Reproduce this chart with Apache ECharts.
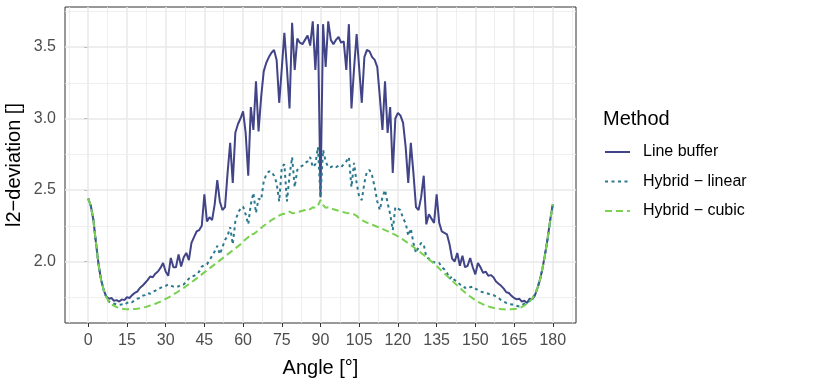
<!DOCTYPE html>
<html>
<head>
<meta charset="utf-8">
<script src="https://cdn.jsdelivr.net/npm/echarts@6/dist/echarts.min.js"></script>
<style>
  html, body { margin: 0; padding: 0; background: #fff; }
  #chart { width: 830px; height: 381px; }
</style>
</head>
<body>
<div id="chart"></div>
<script>
const angles = [
  0, 1, 2, 3, 4, 5, 6, 7, 8, 9, 10, 11, 12, 13, 14, 15, 16, 17, 18, 19,
  20, 21, 22, 23, 24, 25, 26, 27, 28, 29, 30, 31, 32, 33, 34, 35, 36, 37, 38, 39,
  40, 41, 42, 43, 44, 45, 46, 47, 48, 49, 50, 51, 52, 53, 54, 55, 56, 57, 58, 59,
  60, 61, 62, 63, 64, 65, 66, 67, 68, 69, 70, 71, 72, 73, 74, 75, 76, 77, 78, 79,
  80, 81, 82, 83, 84, 85, 86, 87, 88, 89, 90, 91, 92, 93, 94, 95, 96, 97, 98, 99,
  100, 101, 102, 103, 104, 105, 106, 107, 108, 109, 110, 111, 112, 113, 114, 115, 116, 117, 118, 119,
  120, 121, 122, 123, 124, 125, 126, 127, 128, 129, 130, 131, 132, 133, 134, 135, 136, 137, 138, 139,
  140, 141, 142, 143, 144, 145, 146, 147, 148, 149, 150, 151, 152, 153, 154, 155, 156, 157, 158, 159,
  160, 161, 162, 163, 164, 165, 166, 167, 168, 169, 170, 171, 172, 173, 174, 175, 176, 177, 178, 179,
  180
];

const lineBuffer = [
  2.44, 2.39, 2.29, 2.13, 1.98, 1.87, 1.80, 1.755, 1.74, 1.745,
  1.725, 1.73, 1.72, 1.735, 1.73, 1.75, 1.745, 1.765, 1.78, 1.79,
  1.815, 1.83, 1.85, 1.87, 1.895, 1.89, 1.915, 1.93, 1.955, 1.99,
  1.93, 1.90, 2.025, 1.96, 1.96, 2.05, 1.965, 2.03, 2.06, 2.01,
  2.13, 2.17, 2.21, 2.22, 2.25, 2.47, 2.28, 2.31, 2.29, 2.40,
  2.57, 2.42, 2.36, 2.38, 2.62, 2.83, 2.55, 2.90, 2.96, 3.00,
  3.05, 2.90, 2.60, 3.08, 2.92, 3.26, 2.91, 3.15, 3.33, 3.39,
  3.43, 3.46, 3.48, 3.41, 3.11, 3.35, 3.60, 3.35, 3.07, 3.67,
  3.34, 3.56, 3.53, 3.52, 3.55, 3.58, 3.51, 3.68, 3.34, 3.66,
  2.45, 3.66, 3.36, 3.68, 3.55, 3.52, 3.55, 3.57, 3.53, 3.54,
  3.34, 3.66, 3.07, 3.35, 3.59, 3.35, 3.11, 3.43, 3.48, 3.47,
  3.43, 3.41, 3.36, 3.15, 2.92, 3.26, 2.90, 3.08, 2.62, 3.00,
  3.04, 3.02, 2.97, 2.80, 2.55, 2.83, 2.62, 2.38, 2.36, 2.45,
  2.60, 2.26, 2.33, 2.30, 2.27, 2.47, 2.27, 2.21, 2.20, 2.19,
  2.12, 2.02, 2.00, 2.06, 1.97, 2.04, 1.96, 1.97, 2.025, 1.96,
  1.91, 1.99, 1.96, 1.92, 1.93, 1.90, 1.905, 1.89, 1.86, 1.845,
  1.83, 1.81, 1.785, 1.78, 1.76, 1.745, 1.735, 1.74, 1.72, 1.725,
  1.71, 1.74, 1.735, 1.76, 1.81, 1.87, 1.95, 2.05, 2.16, 2.29, 2.40
];

const hybridLinear = [
  2.44, 2.39, 2.29, 2.13, 1.98, 1.87, 1.80, 1.75, 1.72, 1.71,
  1.705, 1.70, 1.698, 1.70, 1.696, 1.71, 1.72, 1.715, 1.73, 1.74,
  1.745, 1.76, 1.765, 1.78, 1.775, 1.79, 1.795, 1.81, 1.815, 1.825,
  1.83, 1.84, 1.83, 1.825, 1.83, 1.825, 1.84, 1.84, 1.86, 1.88,
  1.895, 1.90, 1.91, 1.93, 1.965, 1.975, 1.98, 2.01, 2.04, 2.07,
  2.11, 2.05, 2.10, 2.15, 2.18, 2.24, 2.12, 2.28, 2.34, 2.37,
  2.385, 2.33, 2.26, 2.40, 2.48, 2.34, 2.44, 2.43, 2.56, 2.61,
  2.63, 2.63, 2.60, 2.55, 2.42, 2.66, 2.68, 2.42, 2.60, 2.73,
  2.52, 2.64, 2.66, 2.67, 2.69, 2.70, 2.73, 2.66, 2.68, 2.80,
  2.45, 2.78, 2.70, 2.66, 2.66, 2.67, 2.66, 2.67, 2.66, 2.68,
  2.70, 2.73, 2.52, 2.69, 2.55, 2.45, 2.43, 2.55, 2.63, 2.64,
  2.60, 2.52, 2.42, 2.36, 2.45, 2.50, 2.41, 2.33, 2.22, 2.38,
  2.37, 2.36, 2.30, 2.27, 2.18, 2.23, 2.13, 2.06, 2.10, 2.13,
  2.12, 2.03, 2.02, 2.00, 1.995, 1.99, 1.99, 1.96, 1.945, 1.92,
  1.88, 1.895, 1.87, 1.86, 1.84, 1.835, 1.815, 1.825, 1.82, 1.825,
  1.81, 1.80, 1.79, 1.785, 1.78, 1.775, 1.767, 1.765, 1.755, 1.744,
  1.73, 1.72, 1.71, 1.705, 1.70, 1.70, 1.69, 1.686, 1.695, 1.705,
  1.71, 1.725, 1.74, 1.77, 1.81, 1.87, 1.95, 2.05, 2.16, 2.29, 2.40
];

const hybridCubic = [
  2.44, 2.39, 2.29, 2.13, 1.98, 1.87, 1.80, 1.75, 1.72, 1.70,
  1.69, 1.682, 1.675, 1.67, 1.668, 1.667, 1.666, 1.667, 1.668, 1.67,
  1.673, 1.677, 1.681, 1.686, 1.692, 1.698, 1.705, 1.712, 1.72, 1.729,
  1.738, 1.748, 1.758, 1.769, 1.78, 1.792, 1.804, 1.816, 1.829, 1.842,
  1.855, 1.868, 1.882, 1.896, 1.91, 1.924, 1.938, 1.952, 1.966, 1.98,
  1.994, 2.008, 2.022, 2.036, 2.05, 2.064, 2.078, 2.092, 2.106, 2.12,
  2.14, 2.155, 2.17, 2.195, 2.19, 2.205, 2.22, 2.235, 2.25, 2.262,
  2.275, 2.29, 2.30, 2.312, 2.322, 2.33, 2.334, 2.338, 2.35, 2.338,
  2.34, 2.345, 2.35, 2.355, 2.36, 2.37, 2.365, 2.38, 2.375, 2.39,
  2.43, 2.395, 2.375, 2.38, 2.37, 2.365, 2.36, 2.355, 2.35, 2.345,
  2.34, 2.338, 2.335, 2.33, 2.32, 2.30, 2.29, 2.28, 2.272, 2.265,
  2.258, 2.25, 2.243, 2.236, 2.228, 2.22, 2.212, 2.204, 2.195, 2.186,
  2.176, 2.165, 2.153, 2.141, 2.128, 2.115, 2.102, 2.088, 2.074, 2.06,
  2.045, 2.03, 2.015, 2.0, 1.984, 1.968, 1.951, 1.934, 1.917, 1.90,
  1.883, 1.866, 1.849, 1.832, 1.815, 1.799, 1.784, 1.769, 1.755, 1.742,
  1.73, 1.719, 1.709, 1.70, 1.692, 1.686, 1.68, 1.676, 1.672, 1.669,
  1.667, 1.666, 1.665, 1.665, 1.666, 1.668, 1.67, 1.675, 1.682, 1.692,
  1.705, 1.72, 1.74, 1.77, 1.81, 1.87, 1.95, 2.05, 2.16, 2.29, 2.40
];

const xTicks = [0, 15, 30, 45, 60, 75, 90, 105, 120, 135, 150, 165, 180];
const xMinor = [-7.5, 7.5, 22.5, 37.5, 52.5, 67.5, 82.5, 97.5, 112.5, 127.5, 142.5, 157.5, 172.5, 187.5];
const yTicks = [2.0, 2.5, 3.0, 3.5];
const yMinor = [1.75, 2.25, 2.75, 3.25, 3.75];

const seriesNames = ["Line buffer", "Hybrid \u2212 linear", "Hybrid \u2212 cubic"];
const colors = ["#414487", "#2A788E", "#7AD151"];

const font = "Liberation Sans, Arial, Helvetica, sans-serif";

const pairs = (ys) => angles.map((a, i) => [a, ys[i]]);

// ggplot-like grid: major + minor lines
const gridLines = [];
xTicks.forEach((v) => gridLines.push({ xAxis: v, lineStyle: { width: 1.5, color: "#e8e8e8", type: "solid" } }));
xMinor.forEach((v) => gridLines.push({ xAxis: v, lineStyle: { width: 0.8, color: "#ebebeb", type: "solid" } }));
yTicks.forEach((v) => gridLines.push({ yAxis: v, lineStyle: { width: 1.5, color: "#e8e8e8", type: "solid" } }));
yMinor.forEach((v) => gridLines.push({ yAxis: v, lineStyle: { width: 0.8, color: "#ebebeb", type: "solid" } }));

const chart = echarts.init(document.getElementById("chart"), null, { renderer: "canvas" });

const lineSeries = (name, ys, color, dash) => ({
  name: name,
  type: "line",
  data: pairs(ys),
  symbol: "none",
  showSymbol: false,
  smooth: false,
  z: 3,
  lineStyle: { color: color, width: 2, type: dash },
  itemStyle: { color: color },
  emphasis: { disabled: true },
});

chart.setOption({
  animation: false,
  backgroundColor: "#fff",
  title: [{
    text: "Method",
    left: 603,
    top: 109,
    padding: 0,
    textStyle: { fontFamily: font, fontSize: 20, fontWeight: "normal", color: "#000" },
  }],
  legend: {
    orient: "vertical",
    left: 604,
    top: 144,
    padding: 0,
    itemWidth: 25,
    itemHeight: 14,
    itemGap: 13.5,
    data: seriesNames,
    itemStyle: { opacity: 0 },
    textStyle: { fontFamily: font, fontSize: 16, color: "#000", padding: [0, 0, 0, 8] },
  },
  grid: {
    left: 65,
    right: 254,
    top: 7,
    bottom: 58,
    outerBoundsMode: "none",
    show: true,
    borderColor: "#333",
    borderWidth: 1,
    backgroundColor: "#fff",
  },
  xAxis: {
    type: "value",
    min: -9,
    max: 189,
    name: "Angle [\u00b0]",
    nameLocation: "middle",
    nameGap: 35,
    nameMoveOverlap: false,
    nameTextStyle: { fontFamily: font, fontSize: 20, color: "#000" },
    axisLine: { show: false },
    axisTick: { show: true, length: 4, customValues: xTicks, lineStyle: { color: "#333", width: 1 } },
    axisLabel: { customValues: xTicks, margin: 10, fontFamily: font, fontSize: 16, color: "#4d4d4d" },
    splitLine: { show: false },
  },
  yAxis: {
    type: "value",
    min: 1.57,
    max: 3.78,
    name: "l2\u2212deviation []",
    nameLocation: "middle",
    nameGap: 41,
    nameRotate: 90,
    nameMoveOverlap: false,
    nameTextStyle: { fontFamily: font, fontSize: 20, color: "#000" },
    axisLine: { show: false },
    axisTick: { show: true, length: 4, customValues: yTicks, lineStyle: { color: "#333", width: 1 } },
    axisLabel: {
      customValues: yTicks,
      margin: 9,
      fontFamily: font,
      fontSize: 16,
      color: "#4d4d4d",
      formatter: (v) => v.toFixed(1),
    },
    splitLine: { show: false },
  },
  series: [
    {
      name: "grid",
      type: "line",
      data: [],
      z: 1,
      silent: true,
      markLine: {
        z: 1,
        silent: true,
        symbol: "none",
        label: { show: false },
        emphasis: { disabled: true },
        data: gridLines,
      },
    },
    lineSeries(seriesNames[0], lineBuffer, colors[0], "solid"),
    lineSeries(seriesNames[1], hybridLinear, colors[1], [3, 3.5]),
    lineSeries(seriesNames[2], hybridCubic, colors[2], [7, 4]),
  ],
});
</script>
</body>
</html>
